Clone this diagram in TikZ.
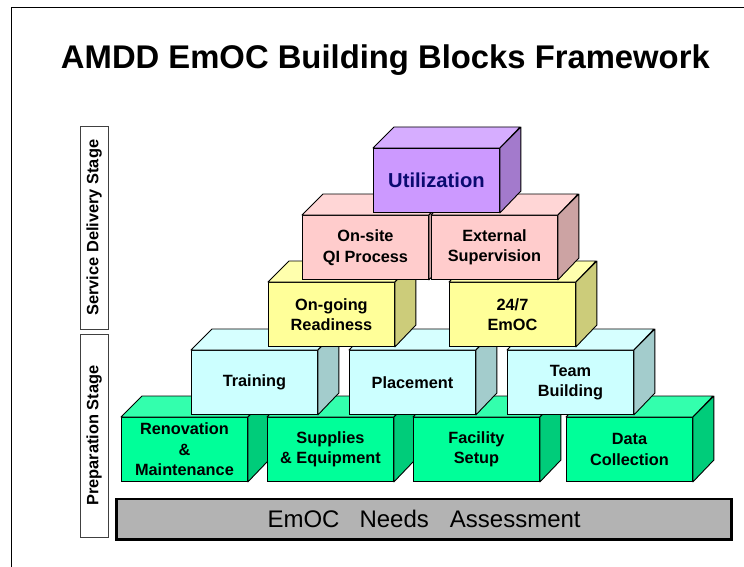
\documentclass[tikz,border=0pt]{standalone}
\usepackage{fontspec}
\setmainfont{Liberation Sans}
\usetikzlibrary{calc}
\definecolor{cGreen}{HTML}{00FF99}
\definecolor{cCyan}{HTML}{CCFFFF}
\definecolor{cYellow}{HTML}{FFFF99}
\definecolor{cPink}{HTML}{FFCCCC}
\definecolor{cPurple}{HTML}{CC99FF}
\definecolor{cBar}{HTML}{B3B3B3}
\definecolor{cNavy}{HTML}{0A0A70}
\tikzset{
  blk/.style={draw=black, line width=0.9pt, minimum width=126pt, minimum height=64pt,
    inner sep=0pt, align=center, anchor=north west,
    font=\fontsize{16.3}{20.5}\selectfont\bfseries},
  facetop/.style={draw=black, line width=0.9pt, line join=round},
  sidebox/.style={draw=black!75, line width=0.8pt, fill=white, minimum height=28.3pt,
    inner sep=0pt, rotate=90, font=\fontsize{16.4}{18}\selectfont\bfseries},
}
\newcommand\blockcube[5]{%
  \node[blk, fill=#4] (#1) at (#2,#3) {#5};
  \filldraw[facetop, fill=#4!80!white] (#1.north west) -- ++(21,-21) -- ++(126,0) -- (#1.north east) -- cycle;
  \filldraw[facetop, fill=#4!80!black] (#1.north east) -- ++(21,-21) -- ++(0,64) -- (#1.south east) -- cycle;
}
\begin{document}
\begin{tikzpicture}[x=1pt,y=-1pt]
\useasboundingbox (0,0) rectangle (744,567);
\fill[white] (0,0) rectangle (744,567);
% frame
\draw[line width=0.9pt] (11,567) -- (11,7) -- (744,7);
% title
\node[anchor=base, inner sep=0pt, font=\fontsize{32.8}{38}\selectfont\bfseries] (title) at (385.4,68.5) {AMDD EmOC Building Blocks Framework};
% side labels
\node[sidebox, minimum width=203.3pt] (svc) at (94.15,227.7) {Service Delivery Stage};
\node[sidebox, minimum width=202.7pt] (prep) at (94.15,435.65) {Preparation Stage};
% base bar
\node[draw=black, line width=2.5pt, fill=cBar, minimum width=614.8pt, minimum height=40.5pt,
  inner sep=0pt, font=\fontsize{24}{28}\selectfont] (needs) at (424.1,519.25)
  {EmOC\hspace{20pt}Needs\hspace{21pt}Assessment};
% green row
\blockcube{reno}{121}{417}{cGreen}{Renovation\\\&\\Maintenance}
\blockcube{supp}{267}{417}{cGreen}{Supplies\\\& Equipment}
\blockcube{fac}{413}{417}{cGreen}{Facility\\Setup}
\blockcube{data}{566}{417}{cGreen}{Data\\Collection}
% cyan row
\blockcube{train}{191}{350}{cCyan}{Training}
\blockcube{place}{349}{350}{cCyan}{Placement}
\blockcube{team}{507}{350}{cCyan}{Team\\Building}
% yellow row
\blockcube{ready}{268}{282}{cYellow}{On-going\\Readiness}
\blockcube{emoc}{449}{282}{cYellow}{24/7\\EmOC}
% pink row
\blockcube{qi}{302}{215}{cPink}{On-site\\QI Process}
\blockcube{sup}{431}{215}{cPink}{External\\Supervision}
% purple
\blockcube{util}{373}{148}{cPurple}{\fontsize{20.2}{24}\selectfont\color{cNavy}Utilization}
\end{tikzpicture}
\end{document}
